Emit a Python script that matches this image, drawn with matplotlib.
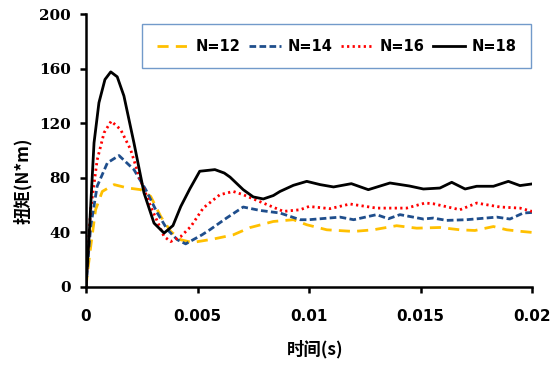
import matplotlib
matplotlib.use("Agg")
import matplotlib.pyplot as plt

# N=18 (black, solid)
t18 = [0, 0.00013, 0.00036, 0.00058, 0.00085, 0.00111, 0.0014, 0.0017, 0.00215, 0.0026,
       0.00305, 0.0035, 0.0039, 0.00425, 0.00466, 0.0051, 0.0055, 0.00578, 0.0062, 0.00646,
       0.00705, 0.0075, 0.00795, 0.0084, 0.0087, 0.0093, 0.0099, 0.0105, 0.0111, 0.0119,
       0.01266, 0.01363, 0.0145, 0.01513, 0.01587, 0.0164, 0.017, 0.01752, 0.01827, 0.01894,
       0.01946, 0.02]
y18 = [0, 34.6, 105.6, 135, 152, 157.6, 154, 140, 105.6, 69,
       46.8, 39.5, 45, 59, 72, 84.8, 85.5, 86, 83.5, 80.5,
       71.3, 66, 64.5, 67, 70, 74.5, 77.4, 75, 73.3, 75.7,
       71.3, 76.2, 74, 71.8, 72.5, 76.7, 71.8, 73.8, 73.8, 77.4,
       74.3, 75.5]

# N=16 (red, dotted)
t16 = [0, 0.0001, 0.00021, 0.0005, 0.00081, 0.00113, 0.00155, 0.002, 0.00238, 0.0029,
       0.0035, 0.0038, 0.00425, 0.0047, 0.00526, 0.006, 0.0066, 0.00705, 0.00795, 0.00885,
       0.0096, 0.01, 0.01094, 0.01184, 0.01303, 0.01438, 0.0152, 0.01557, 0.01677, 0.01752,
       0.01857, 0.01946, 0.02]
y16 = [0, 30, 56.6, 93, 113, 121.5, 115.4, 100.7, 81, 59,
       37, 33.3, 37, 44.3, 57.9, 67.6, 70, 67.6, 61.5, 55.4,
       56.6, 59, 57.4, 60.8, 57.8, 57.8, 61.5, 61, 56.6, 61.5,
       58.6, 57.8, 55.4]

# N=14 (dark blue, dashed)
t14 = [0, 0.0001, 0.00021, 0.0005, 0.00096, 0.00148, 0.00215, 0.00268, 0.0032, 0.00365,
       0.0041, 0.00447, 0.0052, 0.00556, 0.0063, 0.00705, 0.0078, 0.0087, 0.0096, 0.01,
       0.01139, 0.012, 0.01303, 0.01356, 0.01408, 0.01513, 0.01557, 0.01617, 0.01707, 0.01842,
       0.01901, 0.01961, 0.02]
y14 = [0, 22, 44.3, 73.8, 91, 96.3, 86, 71.3, 54.2, 42,
       34.6, 31.6, 38.2, 42, 50.5, 58.6, 56.1, 54.2, 49.3, 49.3,
       51.2, 49.3, 53, 50, 53, 49.8, 50.5, 48.8, 49.3, 51.2,
       49.8, 54.2, 54.6]

# N=12 (yellow, long dashes)
t12 = [0, 0.0001, 0.00021, 0.00043, 0.00073, 0.00126, 0.00185, 0.00245, 0.0029, 0.00335,
       0.0038, 0.00425, 0.00477, 0.0057, 0.0066, 0.00735, 0.0084, 0.0093, 0.0099, 0.0108,
       0.012, 0.01288, 0.01393, 0.01483, 0.01587, 0.01677, 0.01744, 0.01827, 0.01887, 0.01954,
       0.02]
y12 = [0, 15, 29.6, 56.6, 70, 75, 72.6, 71.3, 66.4, 51.7,
       40.7, 34.6, 32.6, 35.1, 38.2, 43.5, 48, 49.3, 45.6, 41.9,
       40.7, 41.9, 44.9, 43.1, 43.6, 41.9, 41.4, 44.3, 41.9, 40.7,
       40]

xticks = [0, 0.005, 0.01, 0.015, 0.02]
xticklabels = ["0", "0.005", "0.01", "0.015", "0.02"]
yticks = [0, 40, 80, 120, 160, 200]

cjk = ["Noto Sans CJK SC", "DejaVu Sans"]

fig = plt.figure(figsize=(5.6, 3.67), dpi=100)
ax = fig.add_axes([86 / 560, 80 / 367, 446 / 560, 273 / 367])

lw = 2.0
ax.plot(t12, y12, color="#FFC000", lw=lw, dashes=(4, 2.6), label="N=12")
ax.plot(t14, y14, color="#1F4E8C", lw=lw, dashes=(2.4, 1.2), label="N=14")
ax.plot(t16, y16, color="#FF0000", lw=lw, dashes=(0.8, 1.2), label="N=16")
ax.plot(t18, y18, color="black", lw=lw, label="N=18")

ax.set_xlim(0, 0.02)
ax.set_ylim(0, 200)
ax.set_xticks(xticks)
ax.set_xticklabels(xticklabels, fontfamily="DejaVu Sans", fontweight="bold", fontsize=11)
ax.set_yticks(yticks)
ax.set_yticklabels([str(v) for v in yticks], fontfamily="DejaVu Serif", fontweight="bold",
                   fontsize=11)

for s in ["top", "right"]:
    ax.spines[s].set_visible(False)
for s in ["left", "bottom"]:
    ax.spines[s].set_linewidth(1.8)
ax.tick_params(axis="both", direction="out", length=4, width=1.8)
ax.tick_params(axis="x", pad=12)
ax.tick_params(axis="y", pad=7)

ax.set_xlabel("时间(s)", family=cjk, fontweight="bold", fontsize=12.5)
ax.set_ylabel("扭矩(N*m)", family=cjk, fontweight="bold", fontsize=12.5)
ax.xaxis.set_label_coords(0.513, -0.195)
ax.yaxis.set_label_coords(-0.122, 0.39)

leg = ax.legend(loc="upper left", bbox_to_anchor=(0.1256, 0.77, 0.872, 0.193), mode="expand",
                ncol=4, frameon=True, fancybox=False, handlelength=2.2, handletextpad=0.45,
                borderpad=1.0, borderaxespad=0, columnspacing=0.6,
                prop={"family": "DejaVu Sans", "weight": "bold", "size": 10.5})
leg.get_frame().set_edgecolor("#4F81BD")
leg.get_frame().set_linewidth(1.0)

fig.savefig("out.png", dpi=100)
